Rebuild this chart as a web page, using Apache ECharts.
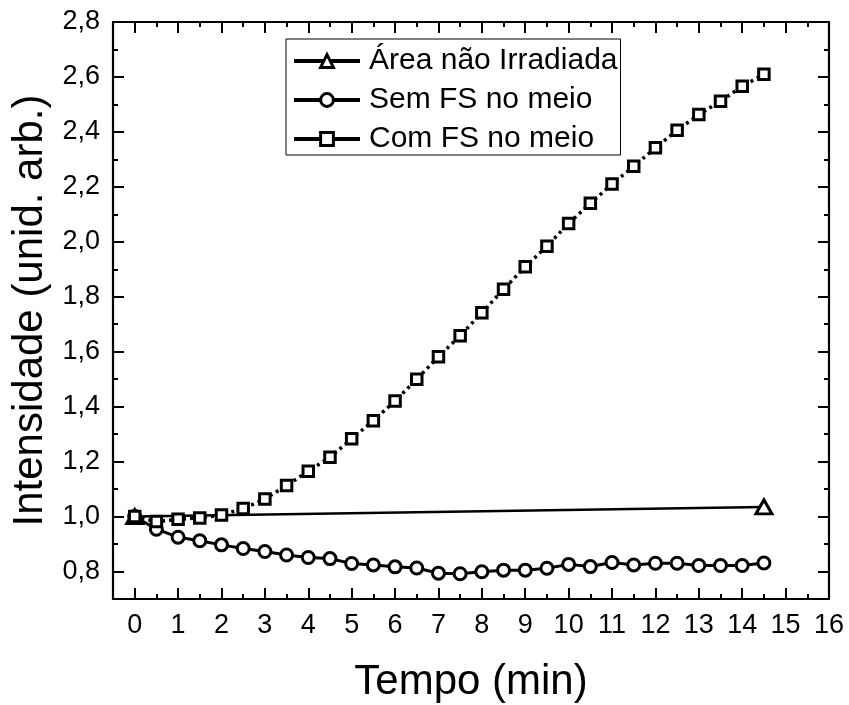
<!DOCTYPE html>
<html><head><meta charset="utf-8">
<script src="https://cdn.jsdelivr.net/npm/echarts@6/dist/echarts.min.js"></script>
<style>html,body{margin:0;padding:0;background:#fff}#c{width:849px;height:705px}</style>
</head><body><div id="c"></div>
<script>
const seriesNames = ['Área não Irradiada', 'Sem FS no meio', 'Com FS no meio'];
const areaTempo = [0, 14.5];
const areaVals = [1.000, 1.035];
const tempo = [0,0.5,1,1.5,2,2.5,3,3.5,4,4.5,5,5.5,6,6.5,7,7.5,8,8.5,9,9.5,10,10.5,11,11.5,12,12.5,13,13.5,14,14.5];
const semFS = [1.000,0.954,0.925,0.912,0.897,0.884,0.873,0.860,0.851,0.847,0.829,0.824,0.817,0.813,0.794,0.792,0.799,0.805,0.805,0.812,0.826,0.818,0.833,0.824,0.830,0.830,0.822,0.822,0.822,0.831];
const comFS = [1.000,0.982,0.990,0.995,1.006,1.029,1.064,1.113,1.165,1.216,1.283,1.349,1.421,1.500,1.582,1.658,1.742,1.827,1.909,1.984,2.067,2.140,2.210,2.275,2.342,2.406,2.463,2.512,2.566,2.610];
const xMajor = [0,1,2,3,4,5,6,7,8,9,10,11,12,13,14,15,16];
const xMinor = [0.5,1.5,2.5,3.5,4.5,5.5,6.5,7.5,8.5,9.5,10.5,11.5,12.5,13.5,14.5,15.5];
const yMajor = [0.8,1.0,1.2,1.4,1.6,1.8,2.0,2.2,2.4,2.6,2.8];
const yMinor = [0.9,1.1,1.3,1.5,1.7,1.9,2.1,2.3,2.5,2.7];
const xRange = [-0.5, 16];
const yRange = [0.7, 2.8];
const xTitle = 'Tempo (min)';
const yTitle = 'Intensidade (unid. arb.)';

const chart = echarts.init(document.getElementById('c'), null, {renderer: 'canvas'});
const FONT = 'Liberation Sans, Arial, sans-serif';
const gridRect = {left: 113, right: 20, top: 22, bottom: 106, containLabel: false, outerBoundsMode: 'none'};
const lineCol = '#000';

function xAx(gridIndex, pos, ticks, len, labels, showLine) {
  return {
    type: 'value', gridIndex, position: pos, min: xRange[0], max: xRange[1],
    axisLine: {show: showLine, onZero: false, lineStyle: {color: lineCol, width: 2.2}},
    axisTick: {show: true, inside: true, length: len, customValues: ticks, lineStyle: {color: lineCol, width: 2}},
    axisLabel: labels ? {show: true, customValues: xMajor, color: '#000', fontSize: 27, fontFamily: FONT, margin: 13} : {show: false},
    splitLine: {show: false},
    name: labels ? xTitle : '', nameLocation: 'middle', nameGap: 62,
    nameTextStyle: {fontSize: 42, fontFamily: FONT, color: '#000'}
  };
}
function yAx(gridIndex, pos, ticks, len, labels, showLine) {
  return {
    type: 'value', gridIndex, position: pos, min: yRange[0], max: yRange[1],
    axisLine: {show: showLine, onZero: false, lineStyle: {color: lineCol, width: 2.2}},
    axisTick: {show: true, inside: true, length: len, customValues: ticks, lineStyle: {color: lineCol, width: 2}},
    axisLabel: labels ? {show: true, customValues: yMajor, color: '#000', fontSize: 27, fontFamily: FONT, margin: 13,
      formatter: v => v.toFixed(1).replace('.', ',')} : {show: false},
    splitLine: {show: false},
    name: labels ? yTitle : '', nameLocation: 'middle', nameGap: 62, nameRotate: 90,
    nameTextStyle: {fontSize: 42, fontFamily: FONT, color: '#000'}
  };
}

const symStyle = {color: '#fff', borderColor: '#000', borderWidth: 3};

chart.setOption({
  animation: false,
  backgroundColor: '#fff',
  grid: [Object.assign({}, gridRect), Object.assign({}, gridRect)],
  xAxis: [
    xAx(0, 'bottom', xMajor, 11, true, true),
    xAx(0, 'top', xMajor, 11, false, true),
    xAx(1, 'bottom', xMinor, 5, false, false),
    xAx(1, 'top', xMinor, 5, false, false)
  ],
  yAxis: [
    yAx(0, 'left', yMajor, 11, true, true),
    yAx(0, 'right', yMajor, 11, false, true),
    yAx(1, 'left', yMinor, 5, false, false),
    yAx(1, 'right', yMinor, 5, false, false)
  ],
  legend: {
    orient: 'vertical', left: 286, top: 39,
    itemWidth: 66, itemHeight: 16, itemGap: 9,
    padding: [7, 3, 1, 6],
    borderColor: '#000', borderWidth: 1,
    backgroundColor: '#fff',
    textStyle: {fontSize: 30, fontFamily: FONT, color: '#000', padding: [0, 0, 0, 4]},
    lineStyle: {type: 'solid', width: 4, color: '#000'},
    itemStyle: {color: '#fff', borderColor: '#000', borderWidth: 3},
    data: seriesNames
  },
  series: [
    {
      name: seriesNames[0], type: 'line', xAxisIndex: 0, yAxisIndex: 0,
      data: areaTempo.map((t, i) => [t, areaVals[i]]),
      symbol: 'triangle', symbolSize: [16, 14], showAllSymbol: true,
      lineStyle: {color: '#000', width: 2.5}, itemStyle: symStyle
    },
    {
      name: seriesNames[1], type: 'line', xAxisIndex: 0, yAxisIndex: 0,
      data: tempo.map((t, i) => [t, semFS[i]]),
      symbol: 'circle', symbolSize: 12, showAllSymbol: true,
      lineStyle: {color: '#000', width: 3}, itemStyle: symStyle
    },
    {
      name: seriesNames[2], type: 'line', xAxisIndex: 0, yAxisIndex: 0,
      data: tempo.map((t, i) => [t, comFS[i]]),
      symbol: 'rect', symbolSize: 10.5, showAllSymbol: true,
      lineStyle: {color: '#000', width: 3.5, type: [3, 4]}, itemStyle: symStyle
    }
  ]
});
</script>
</body></html>
